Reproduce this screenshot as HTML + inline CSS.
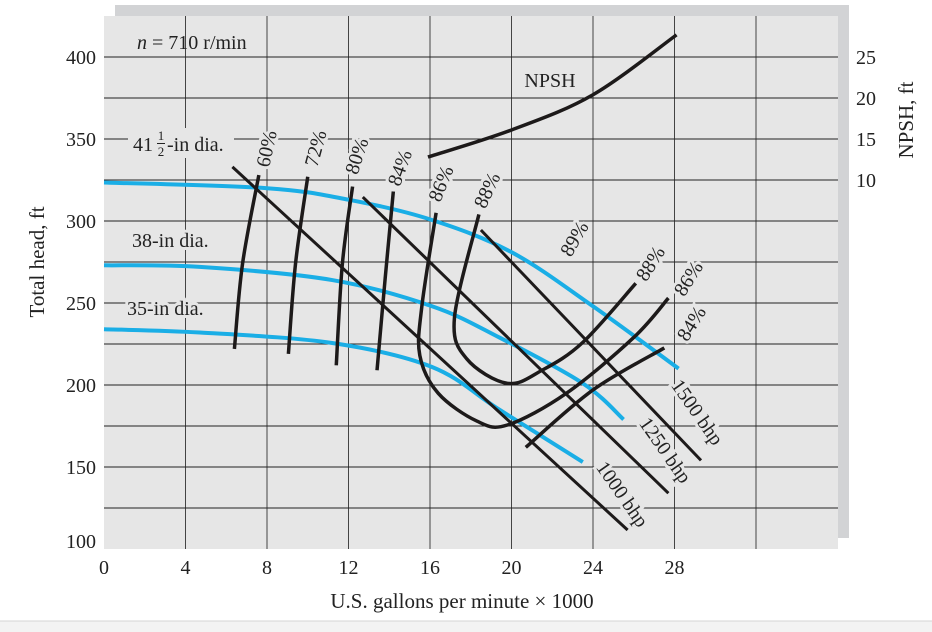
<!DOCTYPE html>
<html><head><meta charset="utf-8"><style>
html,body{margin:0;padding:0;background:#fff;}
svg{display:block;font-family:"Liberation Serif",serif;}
</style></head><body>
<svg id="chart" width="932" height="632" viewBox="0 0 932 632" xmlns="http://www.w3.org/2000/svg">
<rect x="0" y="621" width="932" height="11" fill="#f3f3f3"/>
<line x1="0" y1="621" x2="932" y2="621" stroke="#d4d4d4"/>
<rect x="115" y="5" width="734" height="533" fill="#d2d3d5"/>
<rect x="104" y="16" width="734" height="533" fill="#e6e6e6"/>
<g id="grid"></g>
<g id="marks"></g>
<g id="labels"></g>
</svg>
<script>
const xTicks=[0,4,8,12,16,20,24,28];
const yTicks=[100,150,200,250,300,350,400];
const npshTicks=[10,15,20,25];
const head41=[[0,323.5],[8,320],[12,313],[16,301],[20,281],[24,248],[28.2,210]];
const head38=[[0,273],[4.7,272],[11.2,264],[16.1,248],[19.4,229],[23.5,201],[25.5,179]];
const head35=[[0,234],[4.7,232],[11.2,225.6],[16.1,211],[19.4,185],[23.5,153]];
const eff60=[[7.6,328],[6.8,274],[6.4,222]];
const eff72=[[10.0,327],[9.4,274],[9.05,219]];
const eff80=[[12.2,321],[11.7,274],[11.4,212]];
const eff84=[[14.2,318],[13.8,265],[13.4,209]];
const eff86=[[16.3,305],[15.6,248],[15.5,218],[16.4,195],[18.3,178],[19.8,175.6],[22.7,195],[26,229],[27.7,253]];
const eff88=[[18.4,304],[17.2,241],[17.8,216],[19.8,201],[21.5,209],[23.5,226],[26.1,262]];
const eff84r=[[20.7,162],[24,197],[27.5,222.6]];
const npsh=[[15.9,12.8],[20,16.1],[24,20.4],[28.1,27.7]];
const bhp1000=[[6.3,333],[25.7,111.6]];
const bhp1250=[[12.7,314.6],[27.7,134]];
const bhp1500=[[18.5,294.5],[29.3,154]];

const NS='http://www.w3.org/2000/svg';
const X=g=>104+g*20.375;
const Y=h=>549-(h-100)*1.64;
const YN=n=>Y(275+5*n);
function el(tag,attrs,parent){const e=document.createElementNS(NS,tag);for(const k in attrs)e.setAttribute(k,attrs[k]);parent.appendChild(e);return e;}
function pathD(pts){
  if(pts.length<3){return 'M'+pts.map(p=>p[0].toFixed(1)+','+p[1].toFixed(1)).join(' L');}
  let d='M'+pts[0][0]+','+pts[0][1];
  for(let i=0;i<pts.length-1;i++){
    const p0=pts[i-1]||pts[i],p1=pts[i],p2=pts[i+1],p3=pts[i+2]||p2;
    const c1=[p1[0]+(p2[0]-p0[0])/6,p1[1]+(p2[1]-p0[1])/6];
    const c2=[p2[0]-(p3[0]-p1[0])/6,p2[1]-(p3[1]-p1[1])/6];
    d+=' C'+c1.join(',')+' '+c2.join(',')+' '+p2.join(',');
  }
  return d;
}
const grid=document.getElementById('grid');
for(let g=4;g<=32;g+=4){
  const l=el('line',{x1:X(g),x2:X(g),y1:16,y2:549,stroke:'#444','stroke-width':1},grid);
  
  
}
for(let h=125;h<=400;h+=25){
  const l=el('line',{x1:104,x2:838,y1:Y(h),y2:Y(h),stroke:'#222','stroke-width':1},grid);
  
  
}
const marks=document.getElementById('marks');
function curve(data,name,color,w,fn){
  const pts=data.map(p=>[X(p[0]),(fn||Y)(p[1])]);
  const p=el('path',{d:pathD(pts),fill:'none',stroke:color,'stroke-width':w,'stroke-linecap':'butt'},marks);
  
  
}
const BL='#1aaee6',BK='#1d1a1a';
curve(head41,'head-curve-41-5in',BL,4);
curve(head38,'head-curve-38in',BL,4);
curve(head35,'head-curve-35in',BL,4);
curve(bhp1000,'bhp-line-1000',BK,3);
curve(bhp1250,'bhp-line-1250',BK,3);
curve(bhp1500,'bhp-line-1500',BK,3);
curve(eff60,'efficiency-60',BK,3.5);
curve(eff72,'efficiency-72',BK,3.5);
curve(eff80,'efficiency-80',BK,3.5);
curve(eff84,'efficiency-84',BK,3.5);
curve(eff86,'efficiency-86',BK,3.5);
curve(eff88,'efficiency-88',BK,3.5);
curve(eff84r,'efficiency-84-right',BK,3.5);
curve(npsh,'npsh-curve',BK,3.5,YN);

const labels=document.getElementById('labels');
function txt(s,x,y,name,opts){
  opts=opts||{};
  const t=el('text',{x:x,y:y,'font-size':opts.size||20,fill:'#222','text-anchor':opts.anchor||'middle'},labels);
  if(opts.rot!==undefined)t.setAttribute('transform','rotate('+opts.rot+' '+x+' '+y+')');
  if(opts.mask){t.setAttribute('stroke','#e6e6e6');t.setAttribute('stroke-width','6');t.setAttribute('paint-order','stroke');}
  t.textContent=s;
  
  
  return t;
}
xTicks.forEach(g=>txt(String(g),X(g),574,'x-tick-label'));
yTicks.forEach(h=>txt(String(h),96,Y(h)+(h===100?-1:7),'y-tick-label',{anchor:'end'}));
npshTicks.forEach(n=>txt(String(n),856,YN(n)+7,'npsh-tick-label',{anchor:'start'}));
txt('U.S. gallons per minute × 1000',462,608,'x-axis-title',{size:21});
txt('Total head, ft',44,262,'y-axis-title',{size:21,rot:-90});
txt('NPSH, ft',913,120,'npsh-axis-title',{size:21,rot:-90});
const tk=el('line',{x1:820,x2:838,y1:139,y2:139,stroke:'#222','stroke-width':1},labels);


const n=el('text',{x:137,y:49,'font-size':20,fill:'#222'},labels);
n.innerHTML='<tspan font-style="italic">n</tspan> = 710 r/min';


const bg=el('rect',{x:128,y:128,width:106,height:30,fill:'#e6e6e6'},labels);


txt('41',133,151,'diameter-label-41',{anchor:'start'});
txt('1',161,140,'diameter-fraction-num',{size:13});
txt('2',161,156,'diameter-fraction-den',{size:13});
const fl=el('line',{x1:157,x2:165,y1:143.5,y2:143.5,stroke:'#222','stroke-width':1},labels);


txt('-in dia.',167,151,'diameter-label-41-suffix',{anchor:'start'});
txt('38-in dia.',132,247,'diameter-label-38',{anchor:'start',mask:true});
txt('35-in dia.',127,315,'diameter-label-35',{anchor:'start',mask:true});
txt('NPSH',550,87,'npsh-label');
txt('60%',273,150,'eff-label-60',{rot:-78,mask:true});
txt('72%',322,150,'eff-label-72',{rot:-75,mask:true});
txt('80%',363,158,'eff-label-80',{rot:-72,mask:true});
txt('84%',406,170,'eff-label-84',{rot:-70,mask:true});
txt('86%',447,186,'eff-label-86',{rot:-68,mask:true});
txt('88%',493,193,'eff-label-88',{rot:-65,mask:true});
txt('89%',580,242,'eff-label-89',{rot:-60,mask:true});
txt('88%',656,267,'eff-label-88-right',{rot:-58,mask:true});
txt('86%',694,282,'eff-label-86-right',{rot:-58,mask:true});
txt('84%',697,327,'eff-label-84-right',{rot:-58,mask:true});
txt('1500 bhp',692,416,'bhp-label-1500',{rot:55,mask:true});
txt('1250 bhp',660,454,'bhp-label-1250',{rot:55,mask:true});
txt('1000 bhp',617,498,'bhp-label-1000',{rot:55,mask:true});
</script>
</body></html>
